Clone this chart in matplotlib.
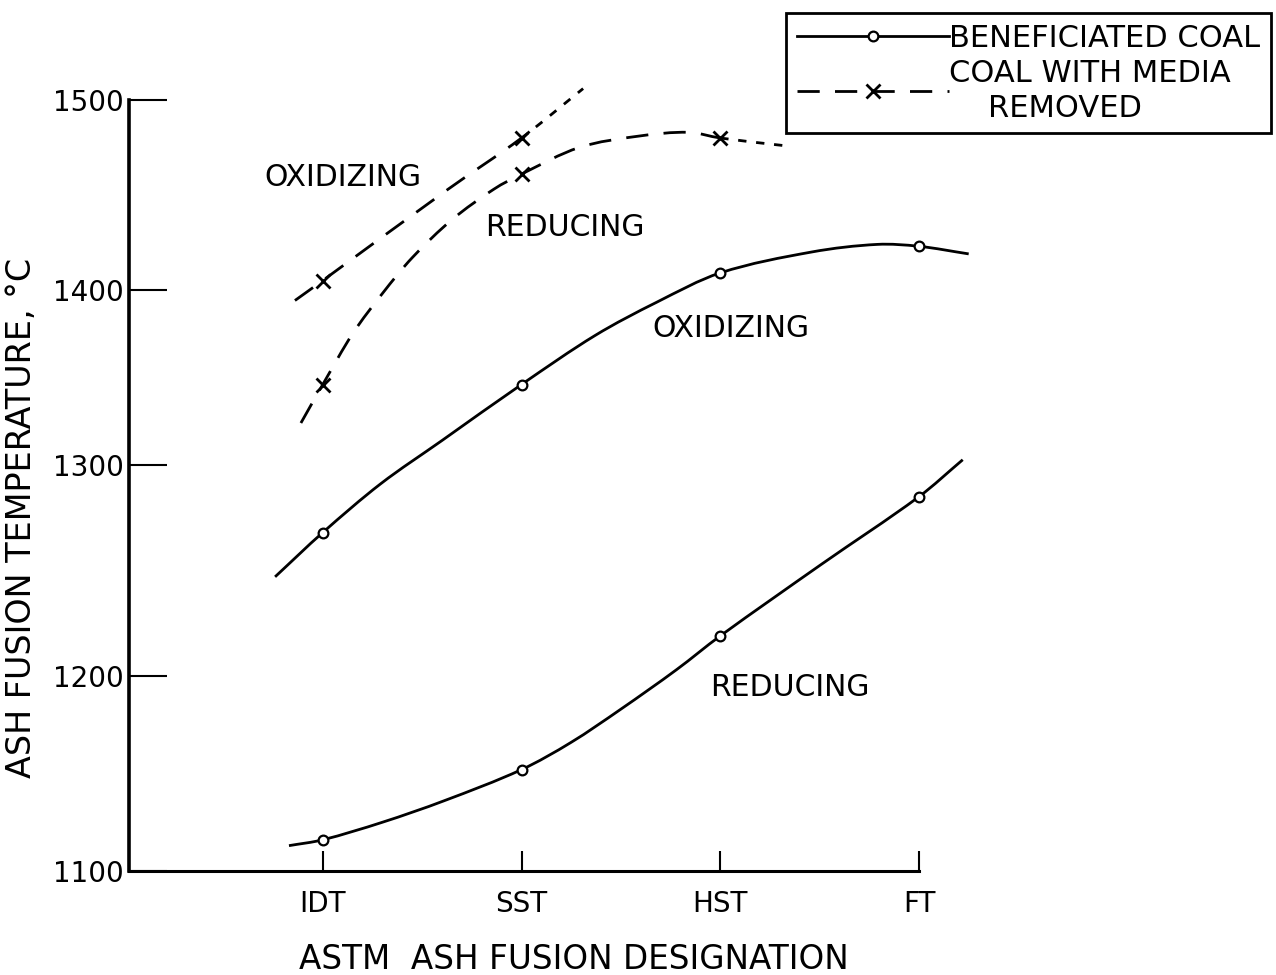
import numpy as np
import matplotlib
matplotlib.use('Agg')
import matplotlib.pyplot as plt
from matplotlib.lines import Line2D
from matplotlib.path import Path
from matplotlib.patches import PathPatch

plt.rcParams['font.family'] = ['DejaVu Sans']

# ASTM designations on the x axis
designations = ['IDT', 'SST', 'HST', 'FT']
desig_pos = [1, 2, 3, 4]
temp_ticks = [1100, 1200, 1300, 1400, 1500]

# beneficiated coal (solid, open circles)
ben_oxid_x = [0.76, 1.0, 1.29, 1.60, 2.0, 2.37, 2.68, 3.0, 3.46, 3.79, 4.0, 4.25]
ben_oxid_y = [1247, 1268, 1291, 1314, 1346, 1374, 1393, 1409, 1420, 1424, 1423, 1419]
ben_oxid_marks = [1, 4, 7, 10]

ben_red_x = [0.83, 1.0, 1.30, 1.61, 2.0, 2.25, 2.50, 2.78, 3.0, 3.51, 4.0, 4.22]
ben_red_y = [1113, 1116, 1125, 1136, 1152, 1166, 1183, 1203, 1219, 1253, 1285, 1303]
ben_red_marks = [1, 4, 8, 10]

# coal with media removed (dashed, crosses); tail past last test is extrapolated
med_oxid_x = [0.86, 1.0, 1.63, 2.0, 2.31]
med_oxid_y = [1394, 1405, 1453, 1480, 1506]
med_oxid_marks = [1, 3]
med_oxid_last = 3

med_red_x = [0.89, 1.0, 1.15, 1.30, 1.45, 1.65, 1.86, 2.0, 2.29, 2.59, 2.84, 3.0, 3.32]
med_red_y = [1324, 1346, 1375, 1398, 1417, 1437, 1453, 1461, 1475, 1481, 1483, 1480, 1476]
med_red_marks = [1, 7, 11]
med_red_last = 11

# the printed temperature scale is not evenly spaced
scale_vals = [1000, 1100, 1200, 1300, 1400, 1500, 1600]
scale_pos = [-195, 0, 195, 406, 581, 771, 961]


def fwd(v):
    return np.interp(v, scale_vals, scale_pos)


def inv(p):
    return np.interp(p, scale_pos, scale_vals)


def curve(ax, xs, ys, ls, lo=0, hi=None):
    """Smooth French-curve style line through the points (cubic Hermite
    segments as Bezier), built in scaled space so the uneven axis adds no kinks."""
    x = np.asarray(xs, float)
    y = fwd(np.asarray(ys, float))
    n = len(x)
    m = np.empty(n)
    m[1:-1] = (y[2:] - y[:-2]) / (x[2:] - x[:-2])
    m[0] = (y[1] - y[0]) / (x[1] - x[0])
    m[-1] = (y[-1] - y[-2]) / (x[-1] - x[-2])
    hi = n - 1 if hi is None else hi
    verts, codes = [(x[lo], y[lo])], [Path.MOVETO]
    for i in range(lo, hi):
        h = (x[i + 1] - x[i]) / 3
        verts += [(x[i] + h, y[i] + m[i] * h),
                  (x[i + 1] - h, y[i + 1] - m[i + 1] * h),
                  (x[i + 1], y[i + 1])]
        codes += [Path.CURVE4] * 3
    ax.add_patch(PathPatch(Path(verts, codes), fill=False, ec='k', lw=2, ls=ls,
                           clip_on=False, capstyle='butt',
                           transform=ax.transLimits + ax.transAxes))


LONG = (0, (8, 5.5))
SHORT = (0, (3, 3.5))

fig = plt.figure(figsize=(12.76, 9.75), dpi=100)
ax = fig.add_axes([129 / 1276, 104 / 975, 790 / 1276, 771 / 975])
ax.set_yscale('function', functions=(fwd, inv))
ax.set_xlim(0.025, 4.0)
ax.set_ylim(1100, 1500)

circ = dict(marker='o', ms=7, mfc='white', mec='k', mew=1.6)
cross = dict(marker='x', ms=10, mec='k', mew=2)

curve(ax, ben_oxid_x, ben_oxid_y, '-')
curve(ax, ben_red_x, ben_red_y, '-')
curve(ax, med_oxid_x, med_oxid_y, LONG, hi=med_oxid_last)
curve(ax, med_oxid_x, med_oxid_y, SHORT, lo=med_oxid_last)
curve(ax, med_red_x, med_red_y, LONG, hi=med_red_last)
curve(ax, med_red_x, med_red_y, SHORT, lo=med_red_last)

for xs, ys, idx, mk in [(ben_oxid_x, ben_oxid_y, ben_oxid_marks, circ),
                        (ben_red_x, ben_red_y, ben_red_marks, circ),
                        (med_oxid_x, med_oxid_y, med_oxid_marks, cross),
                        (med_red_x, med_red_y, med_red_marks, cross)]:
    ax.plot(np.take(xs, idx), np.take(ys, idx), ls='none', clip_on=False,
            zorder=3, **mk)

# curve labels
lab = dict(fontsize=21.5, ha='left', va='center')
ax.text(0.708, 1459, 'OXIDIZING', **lab)
ax.text(1.815, 1433, 'REDUCING', **lab)
ax.text(2.656, 1378, 'OXIDIZING', **lab)
ax.text(2.948, 1194, 'REDUCING', **lab)

# axes
for s in ['top', 'right']:
    ax.spines[s].set_visible(False)
ax.spines['left'].set_linewidth(2.6)
ax.spines['bottom'].set_linewidth(2.2)

ax.set_yticks(temp_ticks)
ax.set_yticklabels([str(t) for t in temp_ticks])
ax.yaxis.set_minor_locator(matplotlib.ticker.NullLocator())
ax.tick_params(axis='y', direction='in', length=27, width=1.5, pad=4, labelsize=20)
ax.set_xticks(desig_pos)
ax.set_xticklabels(designations)
ax.tick_params(axis='x', direction='in', length=14.5, width=1.5, pad=14, labelsize=20)

ax.set_ylabel('ASH FUSION TEMPERATURE, °C', fontsize=24)
ax.yaxis.set_label_coords(-0.115, 0.458)
ax.set_xlabel('ASTM  ASH FUSION DESIGNATION', fontsize=23.5)
ax.xaxis.set_label_coords(0.563, -0.093)

handles = [
    Line2D([], [], color='k', lw=2, **circ),
    Line2D([], [], color='k', lw=2, ls=LONG, **cross),
]
leg = fig.legend(handles, ['BENEFICIATED COAL', 'COAL WITH MEDIA\n    REMOVED'],
                 loc='upper left', bbox_to_anchor=(786 / 1276, 1 - 13 / 975),
                 borderaxespad=0, fontsize=22, handlelength=5.0, handletextpad=0.0,
                 labelspacing=0.2, borderpad=0.35, numpoints=1, fancybox=False,
                 framealpha=1, edgecolor='k')
leg.get_frame().set_linewidth(2)
for t in leg.get_texts():
    t.set_linespacing(1.25)

fig.savefig('out.png', dpi=100)
